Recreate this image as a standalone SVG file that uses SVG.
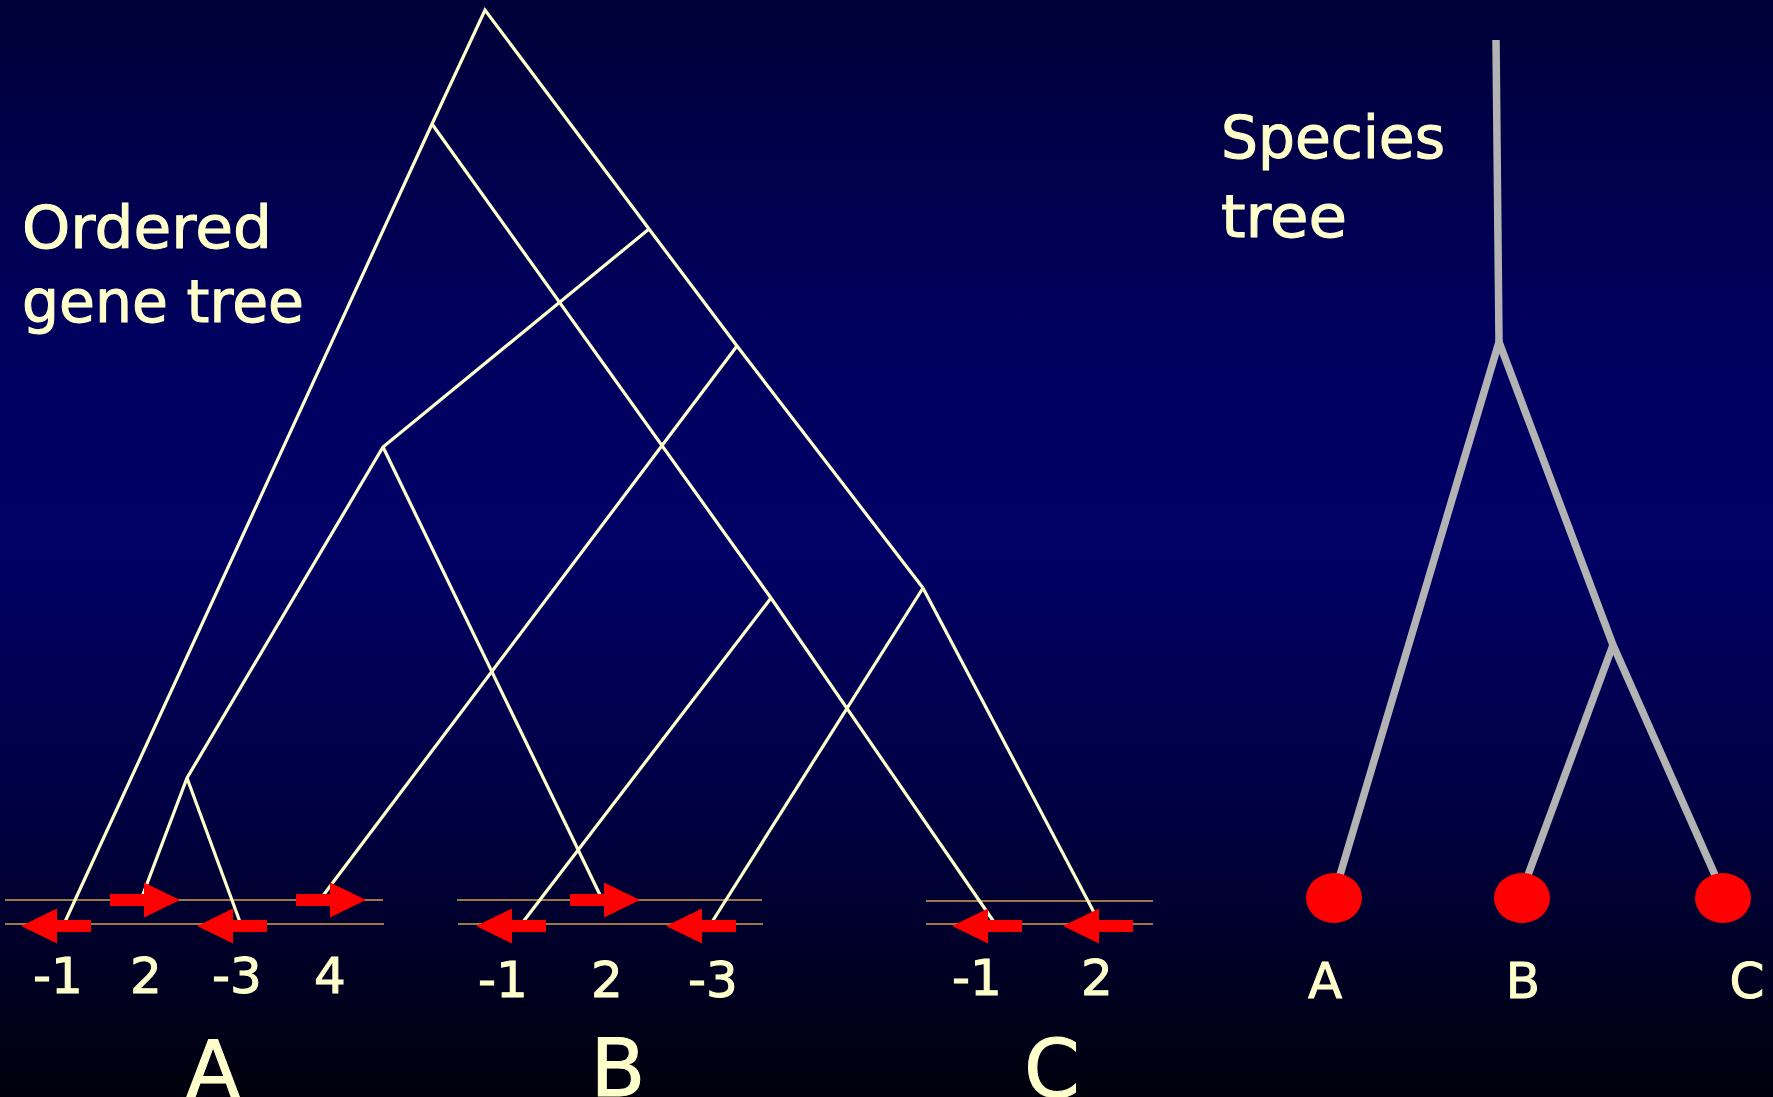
<svg xmlns="http://www.w3.org/2000/svg" width="1773" height="1097" viewBox="0 0 1773 1097">
<defs>
<linearGradient id="bg" x1="0" y1="0" x2="0" y2="1">
<stop offset="0" stop-color="#000038"/>
<stop offset="0.3" stop-color="#00005e"/>
<stop offset="0.5" stop-color="#000066"/>
<stop offset="0.75" stop-color="#000040"/>
<stop offset="1" stop-color="#00000c"/>
</linearGradient>
<path id="arrL" d="M0,0 L36,-17.5 L36,-6 L70,-6 L70,6 L36,6 L36,17.5 Z"/>
<path id="arrR" d="M0,0 L-36,-17.5 L-36,-6 L-70,-6 L-70,6 L-36,6 L-36,17.5 Z"/>
</defs>
<style>
.gene{fill:none;stroke:#ffffcc;stroke-width:3.2;stroke-linejoin:miter}
.sp{fill:none;stroke:#b3b3b3;stroke-width:7.5}
.chrom{stroke:#d4a050;stroke-width:1.5}
.arrow{fill:#ff0000}
.lbl{font-family:"DejaVu Sans","Noto Sans",sans-serif;fill:#ffffcc;stroke:#ffffcc;stroke-width:1}
.num{font-size:50px;text-anchor:middle}
.big{font-size:80px;text-anchor:middle}
.title{font-size:58px}
.dot{fill:#ff0000}
</style>
<rect x="0" y="0" width="1773" height="1097" fill="url(#bg)"/>

<g id="chromosomes">
<line class="chrom" x1="5" y1="900" x2="383" y2="900"/>
<line class="chrom" x1="5" y1="924" x2="384" y2="924"/>
<line class="chrom" x1="457" y1="900" x2="762" y2="900"/>
<line class="chrom" x1="458" y1="924" x2="763" y2="924"/>
<line class="chrom" x1="926" y1="901" x2="1153" y2="901"/>
<line class="chrom" x1="926" y1="924" x2="1153" y2="924"/>
</g>

<g id="connectors">
<polyline class="gene" points="64,924 432,124 485,10 649,229 737,346 923,588"/>
<polyline class="gene" points="432,124 771,598 994,922"/>
<polyline class="gene" points="649,229 383,447 187,778 142,897"/>
<line class="gene" x1="187" y1="778" x2="240" y2="922"/>
<line class="gene" x1="383" y1="447" x2="601" y2="897"/>
<line class="gene" x1="737" y1="346" x2="322" y2="897"/>
<line class="gene" x1="771" y1="598" x2="523" y2="922"/>
<line class="gene" x1="923" y1="588" x2="712" y2="922"/>
<line class="gene" x1="923" y1="588" x2="1098" y2="920"/>

<polyline class="sp" points="1496,40 1499,342"/>
<polyline class="sp" points="1340,875 1499,342 1613,645 1715,875"/>
<line class="sp" x1="1613" y1="645" x2="1528" y2="875"/>
</g>

<g id="geneA">
<use href="#arrL" class="arrow" x="21" y="926"/>
<use href="#arrR" class="arrow" x="180" y="900"/>
<use href="#arrL" class="arrow" x="197" y="926"/>
<use href="#arrR" class="arrow" x="366" y="900"/>
<text class="lbl num" x="58" y="993">-1</text>
<text class="lbl num" x="146" y="993">2</text>
<text class="lbl num" x="237" y="993">-3</text>
<text class="lbl num" x="330" y="993">4</text>
<text class="lbl big" x="213" y="1098">A</text>
</g>

<g id="geneB">
<use href="#arrL" class="arrow" x="476" y="926"/>
<use href="#arrR" class="arrow" x="640" y="900"/>
<use href="#arrL" class="arrow" x="666" y="926"/>
<text class="lbl num" x="503" y="997">-1</text>
<text class="lbl num" x="607" y="997">2</text>
<text class="lbl num" x="713" y="997">-3</text>
<text class="lbl big" x="618" y="1096">B</text>
</g>

<g id="geneC">
<use href="#arrL" class="arrow" x="952" y="926"/>
<use href="#arrL" class="arrow" x="1063" y="926"/>
<text class="lbl num" x="977" y="995">-1</text>
<text class="lbl num" x="1097" y="995">2</text>
<text class="lbl big" x="1052" y="1097">C</text>
</g>

<g id="title-gene">
<text class="lbl title" x="22" y="248" textLength="250" lengthAdjust="spacingAndGlyphs">Ordered</text>
<text class="lbl title" x="22" y="322" textLength="282" lengthAdjust="spacingAndGlyphs">gene tree</text>
</g>

<g id="title-species">
<text class="lbl title" x="1221" y="158" textLength="224" lengthAdjust="spacingAndGlyphs">Species</text>
<text class="lbl title" x="1221" y="237" textLength="126" lengthAdjust="spacingAndGlyphs">tree</text>
</g>

<g id="speciesA">
<ellipse class="dot" cx="1334" cy="898" rx="28" ry="25"/>
<text class="lbl num" x="1325" y="998">A</text>
</g>
<g id="speciesB">
<ellipse class="dot" cx="1522" cy="898" rx="28" ry="25"/>
<text class="lbl num" x="1523" y="998">B</text>
</g>
<g id="speciesC">
<ellipse class="dot" cx="1723" cy="898" rx="28" ry="25"/>
<text class="lbl num" x="1747" y="998">C</text>
</g>
</svg>
